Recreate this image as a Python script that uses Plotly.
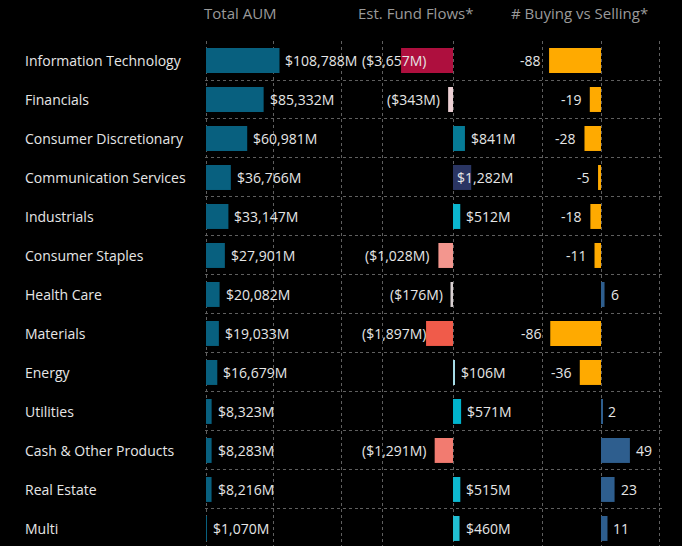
import plotly.graph_objects as go

# ---------------- data ----------------
sectors = ["Information Technology", "Financials", "Consumer Discretionary",
           "Communication Services", "Industrials", "Consumer Staples",
           "Health Care", "Materials", "Energy", "Utilities",
           "Cash & Other Products", "Real Estate", "Multi"]
aum = [108788, 85332, 60981, 36766, 33147, 27901, 20082, 19033, 16679,
       8323, 8283, 8216, 1070]
flows = [-3657, -343, 841, 1282, 512, -1028, -176, -1897, 106, 571,
         -1291, 515, 460]
buy_sell = [-88, -19, -28, -5, -18, -11, 6, -86, -36, 2, 49, 23, 11]
headers = ["Total AUM", "Est. Fund Flows*", "# Buying vs Selling*"]

# ---------------- styles ----------------
W, H = 682, 546
FONT = "Open Sans"
TXT = "#e6e6e6"
GRID = "#5f5f5f"
aum_color = "#08607f"
flow_colors = ["#ae0f3e", "#ecd0d4", "#067b96", "#2a3563", "#0bb5cf",
               "#f3968e", "#d9d0d2", "#f05b4a", "#a6dbe6", "#00b3cc",
               "#f27b70", "#0db8d0", "#21bfd3"]
buy_colors = ["#ffaa00" if v < 0 else "#2e5e8e" for v in buy_sell]

# panel geometry (pixels) and ranges
panels = [
    dict(ax="x", dom=(205, 360), rng=(-1500, 228000), dtick=100000),
    dict(ax="x2", dom=(360, 515), rng=(-6549, 4366), dtick=5000),
    dict(ax="x3", dom=(515, 665), rng=(-145.8, 108.5), dtick=100),
]
y_top_px = 41

fig = go.Figure()
series = [(aum, [aum_color] * len(aum)), (flows, flow_colors), (buy_sell, buy_colors)]
for p, (vals, cols) in zip(panels, series):
    fig.add_trace(go.Bar(
        y=sectors, x=vals, orientation="h", width=0.64,
        marker=dict(color=cols, line=dict(width=0)),
        xaxis=p["ax"], yaxis="y", hoverinfo="skip", showlegend=False))

layout = dict(
    width=W, height=H, paper_bgcolor="#000000", plot_bgcolor="#000000",
    margin=dict(l=0, r=0, t=0, b=0), showlegend=False,
    font=dict(family=FONT, color=TXT, size=14),
    yaxis=dict(type="category", categoryorder="array", categoryarray=sectors,
               range=[12.45, -0.5], domain=[0, 1 - y_top_px / H],
               tickson="boundaries", showgrid=True, gridcolor=GRID,
               griddash="3px,3px", gridwidth=1, showticklabels=False,
               ticks="", zeroline=False, showline=False, anchor="x"),
)
for i, p in enumerate(panels):
    key = "xaxis" if i == 0 else f"xaxis{i + 1}"
    layout[key] = dict(domain=[p["dom"][0] / W, p["dom"][1] / W],
                       range=list(p["rng"]), dtick=p["dtick"], tick0=0,
                       showgrid=True, gridcolor=GRID, griddash="3px,3px",
                       gridwidth=1, zeroline=False, showticklabels=False,
                       ticks="", showline=False, anchor="y", fixedrange=True)
fig.update_layout(**layout)

annotations = []
# category labels
for s in sectors:
    annotations.append(dict(text=s, x=23 / W, xref="paper", xanchor="left",
                            y=s, yref="y", showarrow=False,
                            font=dict(size=14, color=TXT, family=FONT)))

# headers
for h, hx in zip(headers, [202, 356, 509]):
    annotations.append(dict(text=h, x=hx / W, xref="paper", xanchor="left",
                            y=1 - 13 / H, yref="paper", yanchor="middle",
                            showarrow=False,
                            font=dict(size=15, color="#9a9a9a", family=FONT)))

CHAR_W = 7.6


def fmt_money(v):
    return f"(${abs(v):,}M)" if v < 0 else f"${v:,}M"


def add_labels(p, vals, texts, pos_gap=4, neg_gap=6):
    d0, d1 = p["dom"]
    r0, r1 = p["rng"]
    scale = (d1 - d0) / (r1 - r0)
    for s, v, t in zip(sectors, vals, texts):
        end_px = d0 + (v - r0) * scale
        w = len(t) * CHAR_W
        if v >= 0:
            if end_px + pos_gap + w > d1:
                a = dict(x=1, xref=f"{p['ax']} domain", xanchor="right", xshift=0)
            else:
                a = dict(x=v, xref=p["ax"], xanchor="left", xshift=pos_gap)
        else:
            if end_px - neg_gap - w < d0:
                a = dict(x=0, xref=f"{p['ax']} domain", xanchor="left", xshift=0)
            else:
                a = dict(x=v, xref=p["ax"], xanchor="right", xshift=-neg_gap)
        a.update(text=t, y=s, yref="y", showarrow=False,
                 font=dict(size=14, color=TXT, family=FONT))
        annotations.append(a)


add_labels(panels[0], aum, [fmt_money(v) for v in aum])
add_labels(panels[1], flows, [fmt_money(v) for v in flows])
add_labels(panels[2], buy_sell, [str(v) for v in buy_sell])

fig.update_layout(annotations=annotations)
fig.write_html("out.html", config={"displayModeBar": False},
               post_script="document.body.style.margin='0';"
                           "document.body.style.background='#000';")
